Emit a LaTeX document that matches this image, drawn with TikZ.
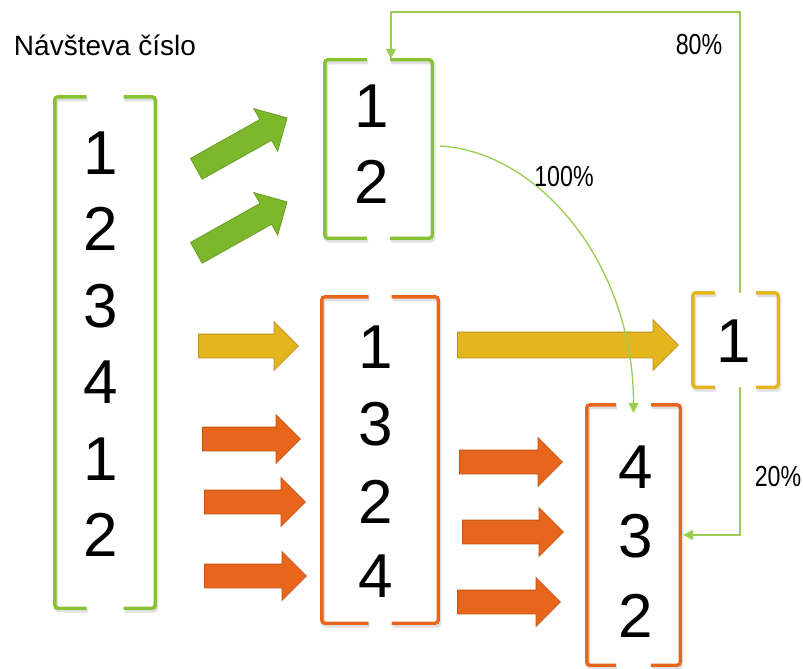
\documentclass[tikz,border=0pt]{standalone}
\usepackage{fontspec}
\setmainfont{Liberation Sans}
\newfontfamily\pctfont[FakeStretch=0.8]{Liberation Sans}
\usetikzlibrary{shapes.arrows,arrows.meta}
\definecolor{gbrk}{HTML}{86C232}
\definecolor{gthin}{HTML}{9ACD50}
\definecolor{garrow}{HTML}{7DB82C}
\definecolor{garrowd}{HTML}{6A9E24}
\definecolor{orng}{HTML}{E8661C}
\definecolor{orngd}{HTML}{C4530F}
\definecolor{ylw}{HTML}{E3B51F}
\definecolor{ylwd}{HTML}{B8921A}
\newcommand\brackets[3]{%
  \begin{scope}[transform canvas={shift={(1.2pt,-2.5pt)}}]
  \draw[brkshadow] ([xshift=-#2]#1.north) -- (#1.north west) -- (#1.south west) -- ([xshift=-#2]#1.south);
  \draw[brkshadow] ([xshift=#2]#1.north) -- (#1.north east) -- (#1.south east) -- ([xshift=#2]#1.south);
  \end{scope}
  \draw[brk,#3] ([xshift=-#2]#1.north) -- (#1.north west) -- (#1.south west) -- ([xshift=-#2]#1.south);
  \draw[brk,#3] ([xshift=#2]#1.north) -- (#1.north east) -- (#1.south east) -- ([xshift=#2]#1.south);
}
\tikzset{
  box/.style={inner sep=0pt, draw=none},
  brk/.style={line width=3.4pt, rounded corners=3pt, line cap=butt},
  brkshadow/.style={line width=4pt, rounded corners=3pt, draw=black, opacity=0.12},
  num/.style={inner sep=0pt, font=\fontsize{62}{62}\selectfont},
  pct/.style={inner sep=0pt, font=\pctfont\fontsize{29}{30}\selectfont},
  titletext/.style={inner sep=0pt, font=\fontsize{28}{30}\selectfont},
  barrow/.style 2 args={single arrow, anchor=tail, inner xsep=0pt, inner ysep=11.5pt,
    text height=0pt, text depth=0pt, single arrow head extend=12.5pt,
    single arrow tip angle=90, minimum height=#1, line width=0.8pt, #2},
  greenarr/.style={fill=garrow, draw=garrowd},
  orangearr/.style={fill=orng, draw=orngd},
  yellowarr/.style={fill=ylw, draw=ylwd},
  conn/.style={draw=gthin, line width=1.6pt, -{Triangle[length=10pt,width=10pt]}},
}
\begin{document}
\begin{tikzpicture}[x=1pt,y=-1pt]
\useasboundingbox (0,0) rectangle (803,669);
\fill[white] (0,0) rectangle (803,669);

% title
\node[titletext] (title) at (105,45) {Návšteva číslo};

% boxes
\node[box, minimum width=100pt, minimum height=511pt] (L) at (105,352.5) {};
\node[box, minimum width=107pt, minimum height=178pt] (G) at (378.5,149) {};
\node[box, minimum width=116pt, minimum height=326pt] (M) at (380,460) {};
\node[box, minimum width=85pt, minimum height=94pt] (Y) at (735.5,340) {};
\node[box, minimum width=93pt, minimum height=260pt] (R) at (633.5,535) {};

\brackets{L}{18.5pt}{gbrk}
\brackets{G}{11.5pt}{gbrk}
\brackets{M}{11.5pt}{orng}
\brackets{Y}{20.5pt}{ylw}
\brackets{R}{17.5pt}{orng}

% digits
\node[num] (L1) at (101,153) {1};
\node[num] (L2) at (101,229) {2};
\node[num] (L3) at (101,306) {3};
\node[num] (L4) at (101,382) {4};
\node[num] (L5) at (101,459) {1};
\node[num] (L6) at (101,535) {2};

\node[num] (G1) at (372,106) {1};
\node[num] (G2) at (372,182) {2};

\node[num] (M1) at (376,347) {1};
\node[num] (M2) at (376,424) {3};
\node[num] (M3) at (376,502) {2};
\node[num] (M4) at (376,576) {4};

\node[num] (Y1) at (734,341) {1};

\node[num] (R1) at (636,467) {4};
\node[num] (R2) at (636,536) {3};
\node[num] (R3) at (636,616) {2};

% block arrows
\node[barrow={104pt}{greenarr}, rotate=29.3] (ga1) at (196,169) {};
\node[barrow={104pt}{greenarr}, rotate=29.3] (ga2) at (196,253) {};
\node[barrow={100pt}{yellowarr}] (ya1) at (198,346) {};
\node[barrow={98pt}{orangearr}] (oa1) at (202,439) {};
\node[barrow={101pt}{orangearr}] (oa2) at (204,502) {};
\node[barrow={102pt}{orangearr}] (oa3) at (204,576) {};
\node[barrow={103pt}{orangearr}] (oa4) at (459,462) {};
\node[barrow={101pt}{orangearr}] (oa5) at (462,532) {};
\node[barrow={103pt}{orangearr}] (oa6) at (457,602) {};
\node[barrow={221pt}{yellowarr}, inner ysep=12.5pt] (ya2) at (457,345) {};

% connectors
\draw[conn] ([xshift=4.5pt]Y.north) -- ++(0,-281) -| ([xshift=12.5pt,yshift=1pt]G.north);
\draw[conn] ([xshift=4.5pt]Y.south) |- ([xshift=3pt]R.east);
\draw[conn, line width=1.3pt] ([xshift=8pt,yshift=3pt]G.east) .. controls (540,152) and (633.5,265) .. ([yshift=-8pt]R.north);

% labels
\node[pct] (p80) at (699,45) {80\%};
\node[pct] (p100) at (564,177) {100\%};
\node[pct] (p20) at (778,477) {20\%};
\end{tikzpicture}
\end{document}
